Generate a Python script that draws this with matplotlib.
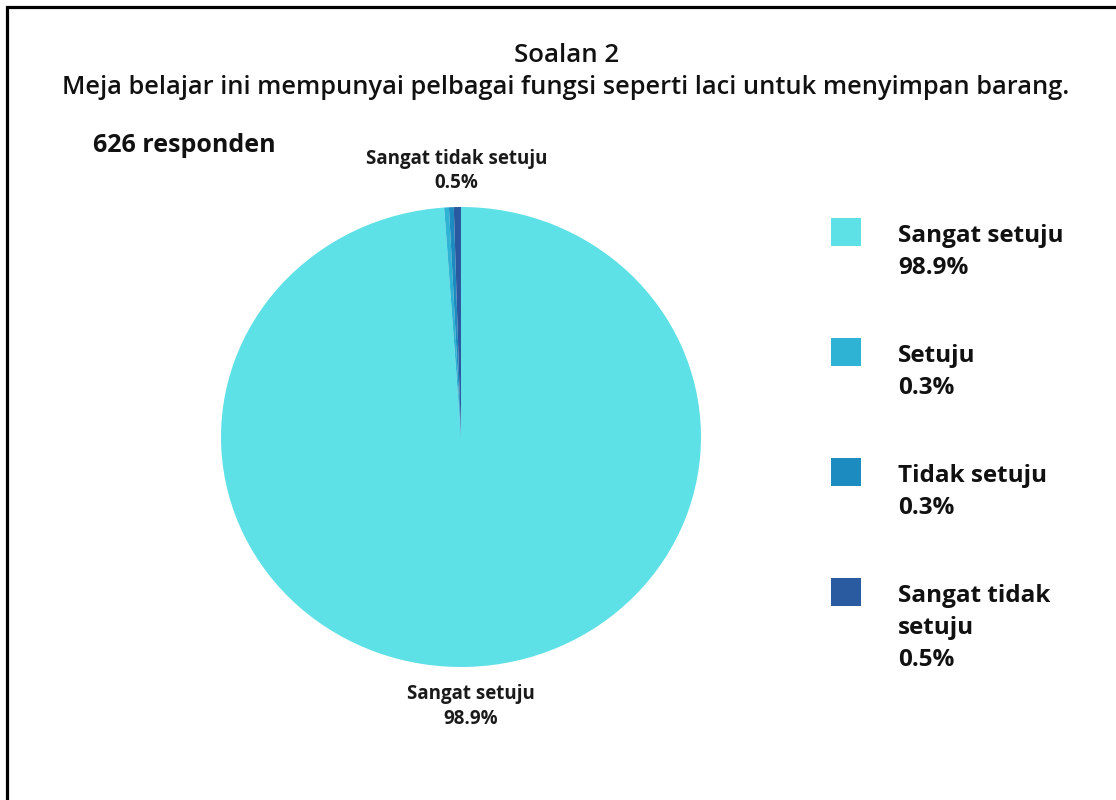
import textwrap
import numpy as np
import matplotlib
matplotlib.use("Agg")
import matplotlib.pyplot as plt
from matplotlib.patches import Rectangle

# data
kategori = ["Sangat setuju", "Setuju", "Tidak setuju", "Sangat tidak setuju"]
bilangan = [619, 2, 2, 3]
warna = ["#5DE0E6", "#2EB3D5", "#1C8BC0", "#2A5AA0"]
label_pie = [0, 3]   # hanya slice ini yang dilabel

tajuk = "Soalan 2"
soalan = "Meja belajar ini mempunyai pelbagai fungsi seperti laci untuk menyimpan barang."
jumlah_teks = "626 responden"

plt.rcParams["font.family"] = ["Open Sans", "DejaVu Sans"]
W, H = 1116, 800
fig = plt.figure(figsize=(W / 100, H / 100), dpi=100)

# bingkai hitam (kanan & bawah terpotong)
fig.patches.append(Rectangle((7 / W, -0.1), 1.2, 1.1 - 7 / H,
                             transform=fig.transFigure, fill=False,
                             edgecolor="black", linewidth=2.3))

# pie elips sedikit (240 px x 230 px)
ax = fig.add_axes([149 / W, 64 / H, 624 / W, 598 / H])
pct = np.array(bilangan) / sum(bilangan) * 100
wedges, _ = ax.pie(bilangan, colors=warna, startangle=90, counterclock=False,
                   wedgeprops=dict(linewidth=0))
ax.set_aspect("auto")
ax.set_xlim(-1.3, 1.3)
ax.set_ylim(-1.3, 1.3)

for i in label_pie:
    w = wedges[i]
    ang = np.deg2rad((w.theta1 + w.theta2) / 2)
    r = 1.165
    ax.text(r * np.cos(ang), r * np.sin(ang) - 0.008,
            f"{kategori[i]}\n{pct[i]:.1f}%",
            ha="center", va="center", fontsize=13.5, fontweight="bold",
            color="#1a1a1a", linespacing=1.3)

# tajuk
fig.text(567 / W, 1 - 55 / H, tajuk, ha="center", va="center",
         fontsize=18.5, fontweight="semibold", color="#111111")
fig.text(566 / W, 1 - 88 / H, soalan, ha="center", va="center",
         fontsize=18.3, fontweight="semibold", color="#111111")
fig.text(93 / W, 1 - 146 / H, jumlah_teks, ha="left", va="center",
         fontsize=18, fontweight="bold", color="#111111")

# legenda manual
for i, (k, c) in enumerate(zip(kategori, warna)):
    top = 218 + 120 * i
    fig.patches.append(Rectangle((831 / W, 1 - (top + 28) / H), 30 / W, 28 / H,
                                 transform=fig.transFigure, facecolor=c,
                                 edgecolor="none"))
    teks = textwrap.fill(k, 13) + f"\n{pct[i]:.1f}%"
    fig.text(898 / W, 1 - (top + 6) / H, teks, ha="left", va="top",
             fontsize=17.5, fontweight="bold", color="#111111", linespacing=1.45)

fig.savefig("out.png", dpi=100, facecolor="white")
